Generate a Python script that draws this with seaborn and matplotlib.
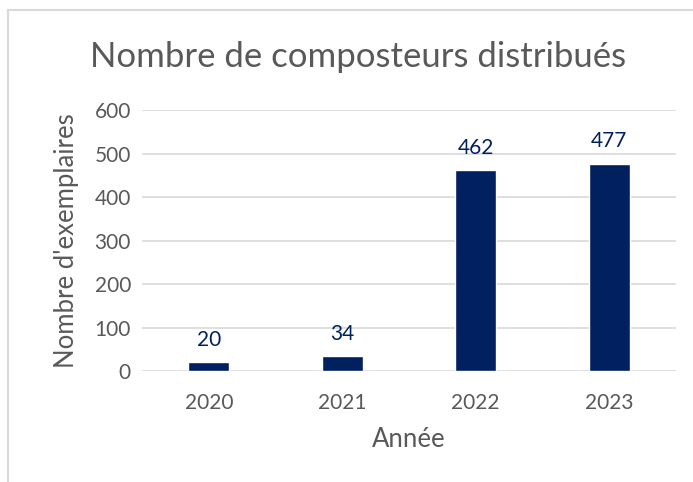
import matplotlib.pyplot as plt
import seaborn as sns
import pandas as pd
from matplotlib.patches import Rectangle

# data
years = ["2020", "2021", "2022", "2023"]
counts = [20, 34, 462, 477]
y_ticks = [0, 100, 200, 300, 400, 500, 600]

BAR = "#002060"
TEXT = "#595959"
GRID = "#D9D9D9"


def main():
    sns.set_theme(style="white")
    plt.rcParams["font.family"] = ["Lato", "DejaVu Sans"]

    df = pd.DataFrame({"Année": years, "Nombre": counts})

    fig = plt.figure(figsize=(6.93, 4.82), dpi=100)
    ax = fig.add_axes([142 / 693, 1 - 371 / 482, 534 / 693, 261 / 482])

    sns.barplot(data=df, x="Année", y="Nombre", color=BAR, width=0.31,
                saturation=1, ax=ax)

    ax.set_ylim(0, 600)
    ax.set_xlim(-0.5, len(years) - 0.5)
    ax.set_yticks(y_ticks)
    ax.yaxis.grid(True, color=GRID, linewidth=1.2)
    ax.set_axisbelow(True)
    for s in ax.spines.values():
        s.set_visible(False)
    ax.tick_params(axis="both", length=0, labelsize=15, colors=TEXT)
    ax.tick_params(axis="x", pad=16)
    ax.tick_params(axis="y", pad=8)

    for i, v in enumerate(counts):
        ax.annotate(str(v), (i, v), xytext=(0, 9), textcoords="offset points",
                    ha="center", va="bottom", fontsize=15, color=BAR)

    ax.set_xlabel("Année", fontsize=18.5, color=TEXT, labelpad=10)
    ax.set_ylabel("Nombre d'exemplaires", fontsize=18.5, color=TEXT, labelpad=11)
    fig.text(358 / 693, 1 - 57 / 482, "Nombre de composteurs distribués",
             ha="center", va="center", fontsize=25, color=TEXT)

    # light frame around the chart, like the Excel chart area
    fig.patches.append(Rectangle((8 / 693, -0.05), 720 / 693, 1 - 10 / 482 + 0.05,
                                 transform=fig.transFigure, fill=False,
                                 edgecolor=GRID, linewidth=1.5))

    fig.savefig("out.png", dpi=100)


if __name__ == "__main__":
    main()
